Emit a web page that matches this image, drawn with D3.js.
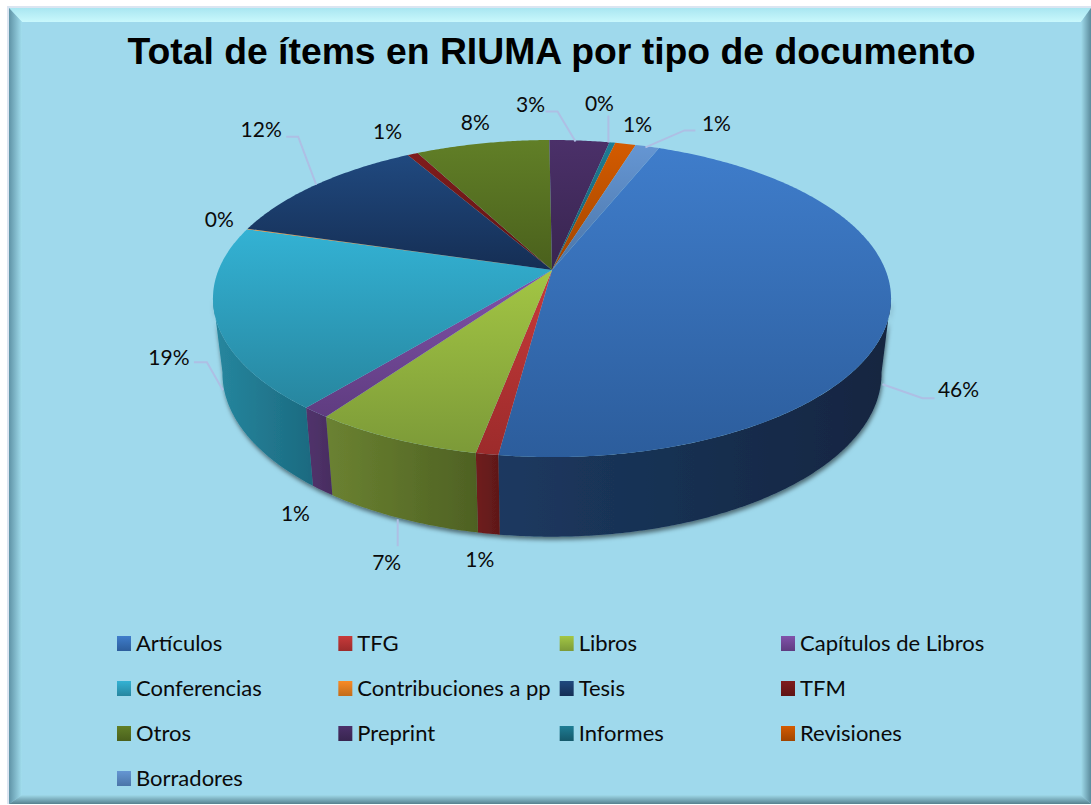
<!DOCTYPE html>
<html lang="es">
<head>
<meta charset="utf-8">
<title>Total de ítems en RIUMA por tipo de documento</title>
<script src="https://cdn.jsdelivr.net/npm/d3@7/dist/d3.min.js"></script>
<style>
html,body{margin:0;padding:0;background:#fff;overflow:hidden}
svg{display:block}
</style>
</head>
<body>
<svg id="chart" width="1091" height="805"></svg>
<script>
const chartTitle = "Total de ítems en RIUMA por tipo de documento";
const categories = ["Artículos","TFG","Libros","Capítulos de Libros","Conferencias","Contribuciones a pp","Tesis","TFM","Otros","Preprint","Informes","Revisiones","Borradores"];
const shares = [46.0,0.9,6.8,1.14,18.55,0.06,12.1,0.6,7.59,3.4,0.33,1.17,1.36];

const topLight = ["#3f7dcb","#c83a3a","#a3c644","#8152aa","#33b2d4","#f88b26","#20497f","#801c1c","#617f27","#4b3069","#1e7d94","#d45b00","#6596d3"];
const topDark  = ["#2c5d9c","#9c2b2b","#7c9a38","#5f3c80","#27869f","#c26c1a","#152e54","#5e1414","#4a601c","#38254f","#15586a","#a04500","#4b75a8"];
const wallLight = ["#1c3960","#701e1e","#6b8231","#52346c","#26879f","#a85a14","#15304f","#4a1010","#3a4c16","#2a1c3c","#104554","#803600","#3b5d86"];
const wallDark  = ["#122540","#5e1818","#4e6123","#482c60","#1c6a80","#8a4a10","#10263f","#3a0c0c","#2c3a10","#20162e","#0c3642","#642a00","#2e4969"];

// label position and leader polyline, relative to the rim point of each slice
const labelOffsets = [[78,3],[-9,26],[-13,44],[-27,23],[-56,-36],[-28,-9],[-55,-55],[-25,-22],[-7,-21],[-49,-36],[-13,-39],[12,-19],[69,-23]];
const leaderOffsets = [
  [[2,-2],[42,12],[54,12]], null, [[-2,1],[-2,28]], null,
  [[-2,-3],[-18,-31],[-31,-31]], null, [[0,0],[-18,-48],[-30,-48]], null, null,
  [[-4,1],[-22,-29],[-34,-29]], [[-4,0],[-4,-27]], null, [[-2,1],[37,-16],[48,-16]]
];

const svg = d3.select("#chart");
const defs = svg.append("defs");
const rad = d => d * Math.PI / 180;

// perspective projection of the pie disc
const apexX = 552, apexY = 270, discB = 333.5, discA = 153.4, persp = 0.18;
const baseScaleX = 0.972, baseScaleY = 1.03, depth = 74;
function rim(theta, base) {
  const u = Math.sin(theta), v = -Math.cos(theta), d = 1 - persp * v;
  const x = discB * u / d, y = discA * v / d;
  return base ? [apexX + baseScaleX * x, apexY + baseScaleY * y + depth] : [apexX + x, apexY + y];
}
const pieGen = d3.pie().sort(null).startAngle(rad(22)).endAngle(rad(382));
const arcs = pieGen(shares);
const line = d3.line();
const steps = (a, b) => {
  const n = Math.max(2, Math.ceil((b - a) / rad(0.5)));
  return d3.range(n + 1).map(i => a + (b - a) * i / n);
};

function vGrad(id, c0, c1, horizontal) {
  const g = defs.append("linearGradient").attr("id", id)
    .attr("x1", 0).attr("y1", 0).attr("x2", horizontal ? 1 : 0).attr("y2", horizontal ? 0 : 1);
  g.append("stop").attr("offset", "0%").attr("stop-color", c0);
  g.append("stop").attr("offset", "100%").attr("stop-color", c1);
}
categories.forEach((c, i) => {
  vGrad("top" + i, topLight[i], topDark[i]);
  vGrad("wall" + i, wallLight[i], wallDark[i], true);
});

// ----- frame -----
const W = 1091, H = 805;
const fL = 9, fT = 8, fR = 1091, fB = 804, inL = 22, inT = 22, inR = 1081, inB = 795;
vGrad("bevTop", "#a9e6f1", "#c9f8fc");
vGrad("bevLeft", "#5f93a6", "#a2deee", true);
vGrad("bevRight", "#a0dbeb", "#5b8b9c", true);
vGrad("bevBottom", "#9fd9e9", "#56818f");
svg.append("rect").attr("width", W).attr("height", H).attr("fill", "#fff");
svg.append("rect").attr("x", 7).attr("y", 6).attr("width", W - 7).attr("height", H - 7).attr("fill", "#dbe5f1");
svg.append("rect").attr("x", fL).attr("y", fT).attr("width", fR - fL).attr("height", fB - fT).attr("fill", "#9fd9ec");
const bevels = [
  ["bevTop", [[fL,fT],[fR,fT],[inR,inT],[inL,inT]]],
  ["bevLeft", [[fL,fT],[inL,inT],[inL,inB],[fL,fB]]],
  ["bevRight", [[fR,fT],[fR,fB],[inR,inB],[inR,inT]]],
  ["bevBottom", [[fL,fB],[inL,inB],[inR,inB],[fR,fB]]]
];
svg.append("g").selectAll("path").data(bevels).join("path")
  .attr("d", d => line(d[1]) + "Z").attr("fill", d => `url(#${d[0]})`);

// ----- title -----
svg.append("text").attr("x", 551.5).attr("y", 64).attr("text-anchor", "middle")
  .attr("font-family", "'Liberation Sans',Arial,sans-serif").attr("font-weight", "bold")
  .attr("font-size", 37.35).attr("fill", "#000").text(chartTitle);

// ----- shadow filter -----
const f = defs.append("filter").attr("id", "shadow").attr("x", "-5%").attr("y", "-5%").attr("width", "110%").attr("height", "115%");
f.append("feDropShadow").attr("dx", 1).attr("dy", 3).attr("stdDeviation", 2.2).attr("flood-color", "#000").attr("flood-opacity", 0.5);

// ----- walls -----
const visA = rad(100), visB = rad(260);
const walls = arcs.map((d, i) => {
  const a = Math.max(d.startAngle, visA), b = Math.min(d.endAngle, visB);
  return b > a ? { i, a, b } : null;
}).filter(Boolean);
const wallG = svg.append("g").attr("filter", "url(#shadow)");
wallG.selectAll("path").data(walls).join("path")
  .attr("d", d => {
    const s = steps(d.a, d.b);
    return line(s.map(t => rim(t, false)).concat(s.slice().reverse().map(t => rim(t, true)))) + "Z";
  })
  .attr("fill", d => `url(#wall${d.i})`);

// ----- top faces -----
svg.append("g").selectAll("path").data(arcs).join("path")
  .attr("d", d => line([[apexX, apexY]].concat(steps(d.startAngle, d.endAngle).map(t => rim(t, false)))) + "Z")
  .attr("fill", (d, i) => `url(#top${i})`);

// ----- leaders and data labels -----
const anchors = arcs.map(d => {
  const m = (d.startAngle + d.endAngle) / 2;
  return rim(m, m > visA && m < visB);
});
const pct = d3.format(".0%");
const total = d3.sum(shares);
const labelFont = "Lato,'Noto Sans',sans-serif";
svg.append("g").selectAll("path").data(leaderOffsets.map((o, i) => o && { o, i }).filter(Boolean)).join("path")
  .attr("d", d => line(d.o.map(p => [anchors[d.i][0] + p[0], anchors[d.i][1] + p[1]])))
  .attr("fill", "none").attr("stroke", "#aebfe4").attr("stroke-width", 2);
svg.append("g").selectAll("text").data(shares).join("text")
  .attr("x", (d, i) => anchors[i][0] + labelOffsets[i][0])
  .attr("y", (d, i) => anchors[i][1] + labelOffsets[i][1])
  .attr("dy", "0.35em").attr("text-anchor", "middle")
  .attr("font-family", labelFont).attr("font-size", 21).attr("fill", "#0a0a0a")
  .text(d => pct(d / total));

// ----- legend -----
const legendX = d3.scaleLinear().domain([0, 3]).range([117, 781]);
const legendY = d3.scaleLinear().domain([0, 3]).range([643, 778]);
const legend = svg.append("g").selectAll("g").data(categories).join("g")
  .attr("transform", (d, i) => `translate(${legendX(i % 4)},${legendY(Math.floor(i / 4))})`);
legend.append("rect").attr("x", 0).attr("y", -7).attr("width", 14).attr("height", 15)
  .attr("fill", (d, i) => `url(#top${i})`);
legend.append("text").attr("x", 19).attr("y", 0).attr("dy", "0.35em")
  .attr("font-family", labelFont).attr("font-size", 22).attr("fill", "#0a0a0a").text(d => d);
</script>
</body>
</html>
